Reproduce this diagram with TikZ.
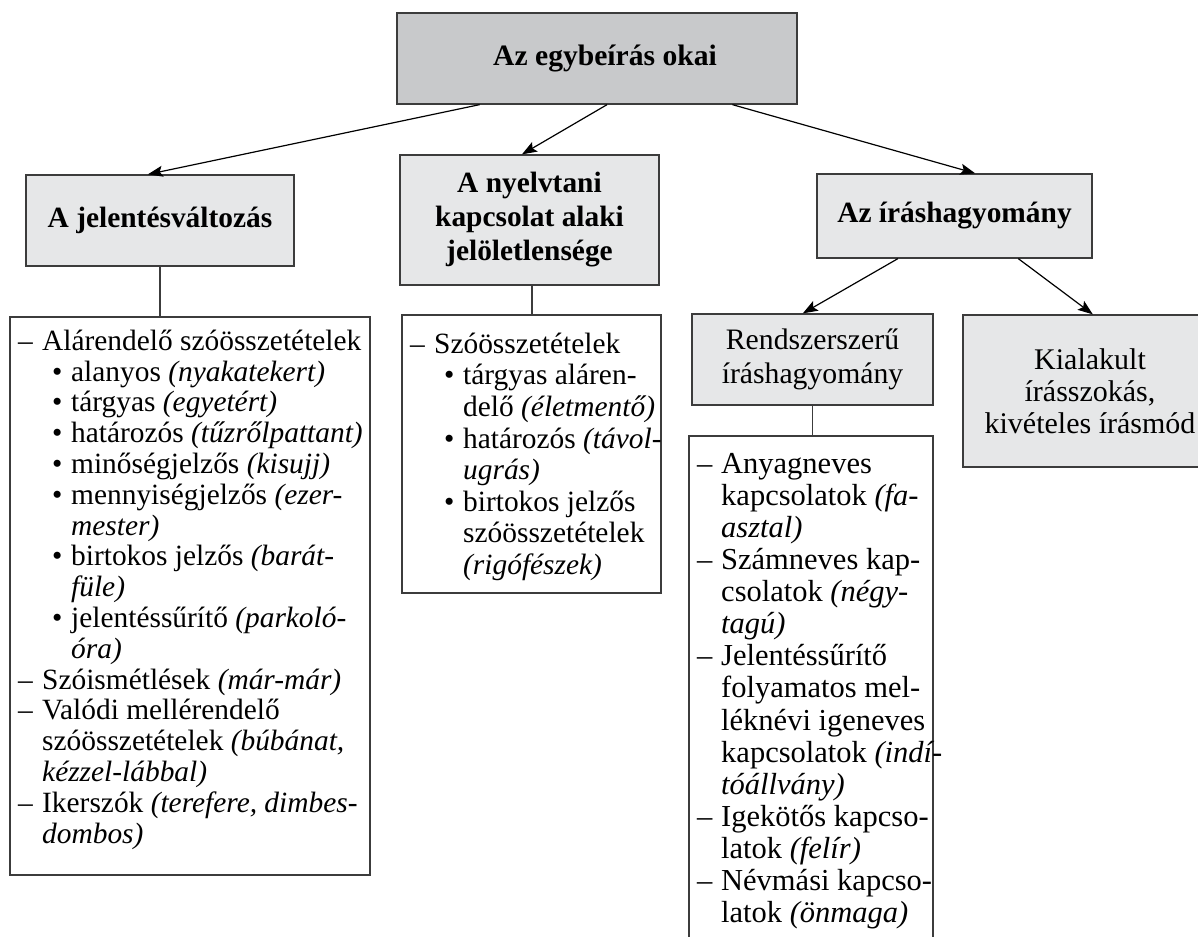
\documentclass[tikz,border=0pt]{standalone}
\usepackage{fontspec}
\setmainfont{Liberation Serif}
\usetikzlibrary{arrows.meta,calc}

\definecolor{headdark}{HTML}{C8C9CB}
\definecolor{headlight}{HTML}{E6E7E8}
\definecolor{framegray}{HTML}{3C3C3C}

% list line helpers: dash item, dash continuation, bullet item, bullet continuation
\newcommand\idash[1]{\makebox[24pt][l]{–}#1}
\newcommand\icont[1]{\hspace*{24pt}#1}
\newcommand\ibul[1]{\hspace*{34pt}\makebox[19pt][l]{\textbullet}#1}
\newcommand\ibcont[1]{\hspace*{53pt}#1}

\tikzset{
  headbox/.style={draw=framegray, line width=1.3pt, fill=headlight, inner sep=2pt,
    align=center},
  listframe/.style={draw=framegray, line width=1.3pt, fill=white},
  listtext/.style={anchor=north west, inner sep=0pt, align=left},
  arr/.style={line width=1.2pt, -{Stealth[length=15pt, width=11pt, inset=3pt]}},
  link/.style={line width=1.1pt, draw=framegray},
}

\begin{document}
\begin{tikzpicture}[x=1pt, y=-1pt]
\useasboundingbox (0,0) rectangle (1198,936);
\clip (0,0) rectangle (1198,936);

% heading boxes
\node[headbox, fill=headdark, minimum width=400pt, minimum height=91pt,
      font=\bfseries\fontsize{29.6}{34}\selectfont] (top) at (597,58.5)
      {\hspace*{16pt}Az egybeírás okai};
\node[headbox, minimum width=268pt, minimum height=91pt,
      font=\bfseries\fontsize{29.4}{34}\selectfont] (jel) at (160,220.5) {A jelentésváltozás};
\node[headbox, minimum width=259pt, minimum height=130pt,
      font=\bfseries\fontsize{29.4}{34}\selectfont] (mid) at (529.5,220)
      {A nyelvtani\\kapcsolat alaki\\jelöletlensége};
\node[headbox, minimum width=275pt, minimum height=84pt,
      font=\bfseries\fontsize{29.4}{34}\selectfont] (ira) at (954.5,216) {Az íráshagyomány};
\node[headbox, minimum width=241pt, minimum height=91pt,
      font=\fontsize{29.7}{33.3}\selectfont] (rend) at (812.5,359.5)
      {Rendszerszerű\\íráshagyomány};
\node[headbox, minimum width=254pt, minimum height=152pt,
      font=\fontsize{30}{32}\selectfont] (kial) at (1090,391)
      {Kialakult\\írásszokás,\\kivételes írásmód};

% list frames
\node[listframe, minimum width=360pt, minimum height=558pt] (lbox) at (190,596) {};
\node[listframe, minimum width=259pt, minimum height=278pt] (mbox) at (531.5,454) {};
\node[listframe, minimum width=244pt, minimum height=524pt] (rbox) at (811,698) {};

% list texts
\node[listtext, font=\fontsize{29.4}{30.8}\selectfont] (ltext) at (18,324) {%
\rule{0pt}{26pt}\idash{Alárendelő szóösszetételek}\\
\ibul{alanyos \textit{(nyakatekert)}}\\
\ibul{tárgyas \textit{(egyetért)}}\\
\ibul{határozós \textit{(tűzrőlpattant)}}\\
\ibul{minőségjelzős \textit{(kisujj)}}\\
\ibul{mennyiségjelzős \textit{(ezer-}}\\
\ibcont{\textit{mester)}}\\
\ibul{birtokos jelzős \textit{(barát-}}\\
\ibcont{\textit{füle)}}\\
\ibul{jelentéssűrítő \textit{(parkoló-}}\\
\ibcont{\textit{óra)}}\\
\idash{Szóismétlések \textit{(már-már)}}\\
\idash{Valódi mellérendelő}\\
\icont{szóösszetételek \textit{(búbánat,}}\\
\icont{\textit{kézzel-lábbal)}}\\
\idash{Ikerszók \textit{(terefere, dimbes-}}\\
\icont{\textit{dombos)}}};

\node[listtext, font=\fontsize{29.4}{31.6}\selectfont] (mtext) at (410,327) {%
\rule{0pt}{26pt}\idash{Szóösszetételek}\\
\ibul{tárgyas aláren-}\\
\ibcont{delő \textit{(életmentő)}}\\
\ibul{határozós \textit{(távol-}}\\
\ibcont{\textit{ugrás)}}\\
\ibul{birtokos jelzős}\\
\ibcont{szóösszetételek}\\
\ibcont{\textit{(rigófészek)}}};

\node[listtext, font=\fontsize{30.5}{32.1}\selectfont] (rtext) at (697,447) {%
\rule{0pt}{26pt}\idash{Anyagneves}\\
\icont{kapcsolatok \textit{(fa-}}\\
\icont{\textit{asztal)}}\\
\idash{Számneves kap-}\\
\icont{csolatok \textit{(négy-}}\\
\icont{\textit{tagú)}}\\
\idash{Jelentéssűrítő}\\
\icont{folyamatos mel-}\\
\icont{léknévi igeneves}\\
\icont{kapcsolatok \textit{(indí-}}\\
\icont{\textit{tóállvány)}}\\
\idash{Igekötős kapcso-}\\
\icont{latok \textit{(felír)}}\\
\idash{Névmási kapcso-}\\
\icont{latok \textit{(önmaga)}}};

% arrows between headings
\draw[arr] ($(top.south west)!0.2075!(top.south east)$) -- ($(jel.north west)!0.455!(jel.north east)$);
\draw[arr] ($(top.south west)!0.525!(top.south east)$) -- ($(mid.north west)!0.471!(mid.north east)$);
\draw[arr] ($(top.south west)!0.8375!(top.south east)$) -- ($(ira.north west)!0.575!(ira.north east)$);
\draw[arr] ($(ira.south west)!0.295!(ira.south east)$) -- ($(rend.north west)!0.46!(rend.north east)$);
\draw[arr] ($(ira.south west)!0.731!(ira.south east)$) -- ($(kial.north west)!0.511!(kial.north east)$);

% plain links from headings to their lists
\draw[link] (jel.south) -- (jel.south |- lbox.north);
\draw[link] ($(mid.south)+(2.5,0)$) -- ($(mid.south |- mbox.north)+(2.5,0)$);
\draw[link] (rend.south) -- (rend.south |- rbox.north);
\end{tikzpicture}
\end{document}
